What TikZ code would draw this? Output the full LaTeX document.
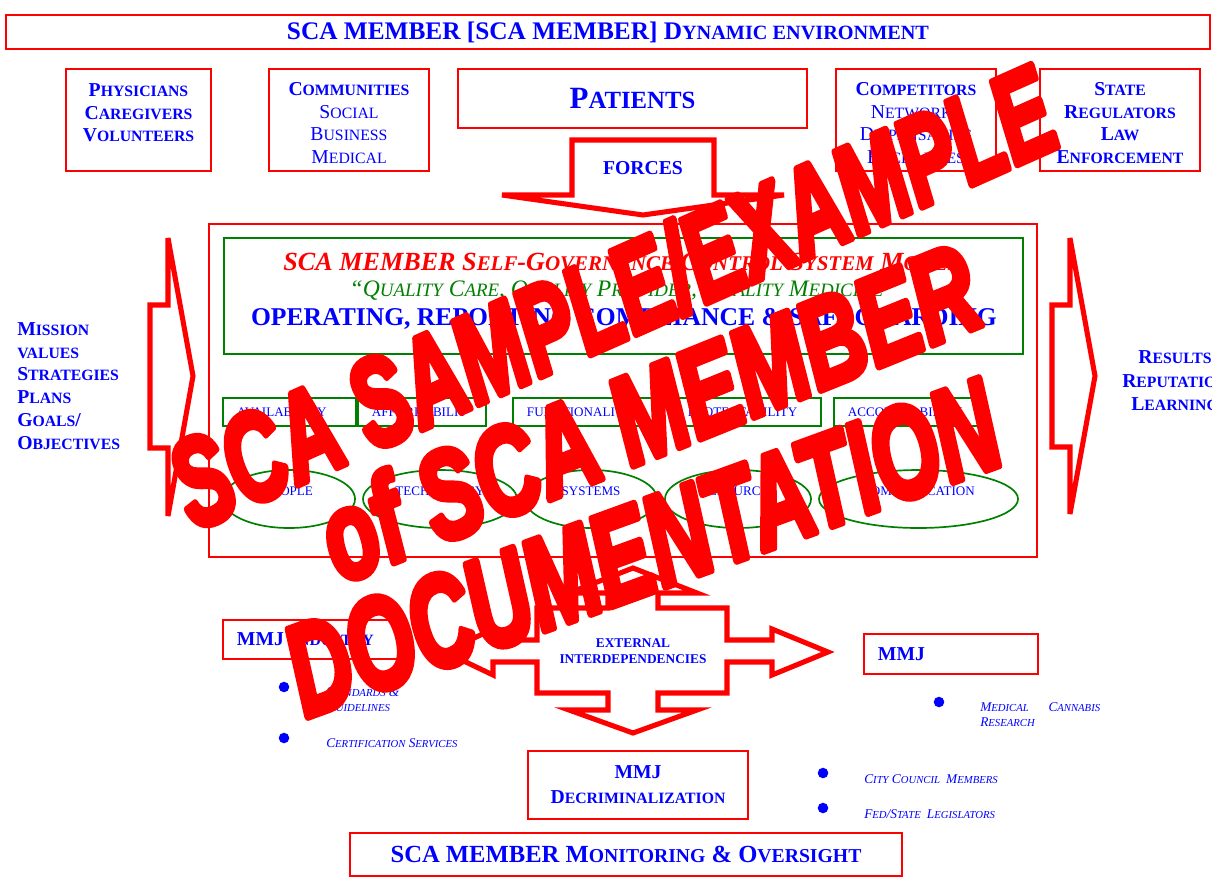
\documentclass[tikz,border=0pt]{standalone}
\usepackage{fontspec}
\setmainfont{Liberation Serif}
\newfontfamily\wmfont[BoldItalicFeatures={FakeBold=6}]{Liberation Sans}
\usetikzlibrary{shapes.geometric}
\definecolor{sgreen}{RGB}{0,128,0}
\newcommand\px{0.025cm}
\newcommand\smc[1]{\scalebox{0.8}{#1}}
\newcommand\roundjoin{\special{pdf:literal direct 1 j 1 J}}

\begin{document}
\begin{tikzpicture}[x=\px, y=-\px,
    redbox/.style={draw=red, line width=1.2pt, inner sep=0pt},
    grnbox/.style={draw=sgreen, line width=1.2pt, inner sep=0pt},
    oval/.style={ellipse, draw=sgreen, line width=1.2pt, inner sep=0pt, minimum height=58*\px},
    bigarrow/.style={draw=red, line width=3.6pt, fill=white, line join=miter},
    bluetxt/.style={text=blue, align=center, inner sep=0pt},
    boxfont/.style={font=\fontsize{14}{16}\selectfont},
    lbl/.style={text=blue, font=\fontsize{9.3}{11}\selectfont, inner sep=0pt},
    glbl/.style={grnbox, lbl, minimum height=28*\px, inner xsep=14*\px, align=left},
    bullet/.style={circle, fill=blue, inner sep=0pt, minimum size=7.5pt},
    bullettxt/.style={text=blue, font=\fontsize{9.5}{10.7}\selectfont\itshape, align=left, anchor=west, inner sep=0pt},
    wm/.style={text=red, font=\wmfont\bfseries\itshape, inner sep=0pt}]
    \useasboundingbox (0,0) rectangle (1212,877);
    % environment
    \node[redbox, bluetxt, minimum width=1204*\px, minimum height=34*\px, font=\fontsize{18}{20}\selectfont\bfseries] (env) at (608,32) {SCA MEMBER [SCA MEMBER] D\smc{YNAMIC ENVIRONMENT}};
    \node[redbox, minimum width=145*\px, minimum height=102*\px] (phys) at (138.5,120) {};
    \node[bluetxt, boxfont] (physT) at (138.5,113) {\bfseries P\smc{HYSICIANS}\\\bfseries C\smc{AREGIVERS}\\\bfseries V\smc{OLUNTEERS}};
    \node[redbox, minimum width=160*\px, minimum height=102*\px] (comm) at (349,120) {};
    \node[bluetxt, boxfont] (commT) at (349,123) {{\bfseries C\smc{OMMUNITIES}}\\S\smc{OCIAL}\\B\smc{USINESS}\\M\smc{EDICAL}};
    \node[redbox, bluetxt, minimum width=349*\px, minimum height=59*\px, font=\fontsize{22}{24}\selectfont\bfseries] (patients) at (632.5,98.5) {P\smc{ATIENTS}};
    \node[redbox, minimum width=160*\px, minimum height=102*\px] (compet) at (916,120) {};
    \node[bluetxt, boxfont] (competT) at (916,123) {{\bfseries C\smc{OMPETITORS}}\\N\smc{ETWORKS}\\D\smc{ISPENSARIES}\\E\smc{XCHANGES}};
    \node[redbox, minimum width=160*\px, minimum height=102*\px] (state) at (1120,120) {};
    \node[bluetxt, boxfont] (stateT) at (1120,123) {\bfseries S\smc{TATE}\\\bfseries R\smc{EGULATORS}\\\bfseries L\smc{AW}\\\bfseries E\smc{NFORCEMENT}};
    % forces
    \draw[bigarrow] (572,140) -- (714,140) -- (714,195) -- (784,195) -- (643,215) -- (502,195) -- (572,195) -- cycle;
    \node[bluetxt, font=\fontsize{14}{16}\selectfont\bfseries] (forces) at (643,168) {FORCES};
    % control system model
    \node[redbox, minimum width=828*\px, minimum height=333*\px] (core) at (623,390.5) {};
    \node[grnbox, minimum width=799*\px, minimum height=116*\px] (model) at (623.5,296) {};
    \node[inner sep=0pt, text=red, font=\fontsize{18.6}{20}\selectfont\bfseries\itshape] (modeltitle) at (622,262) {SCA MEMBER S\smc{ELF}-G\smc{OVERNANCE} C\smc{ONTROL} S\smc{YSTEM} M\smc{ODEL}};
    \node[inner sep=0pt, text=sgreen, font=\fontsize{16.8}{18}\selectfont\itshape] (motto) at (623,291) {“Q\smc{UALITY} C\smc{ARE}, Q\smc{UALITY} P\smc{ROVIDER}, Q\smc{UALITY} M\smc{EDICINE}”};
    \node[inner sep=0pt, text=blue, font=\fontsize{18.2}{19}\selectfont\bfseries] (opline) at (624,319) {OPERATING, REPORTING COMPLIANCE \& SAFEGUARDING};
    \node[glbl, text width=2.625cm] (avail) at (289.5,412) {AVAILABILITY};
    \node[glbl, text width=2.5cm] (afford) at (422,412) {AFFORDABILIT};
    \node[glbl, text width=3cm] (funct) at (587,412) {FUNCTIONALITY};
    \node[glbl, text width=2.975cm] (protect) at (747.5,412) {PROTECTABILITY};
    \node[glbl, text width=2.925cm] (account) at (906.5,412) {ACCOUNTABILITY};
    \node[oval, minimum width=132*\px, label={[lbl, yshift=5.7pt]center:PEOPLE}] (people) at (289,499) {};
    \node[oval, minimum width=154*\px, label={[lbl, yshift=5.7pt]center:TECHNOLOGY}] (tech) at (440,499) {};
    \node[oval, minimum width=132*\px, label={[lbl, yshift=5.7pt]center:SYSTEMS}] (systems) at (591,499) {};
    \node[oval, minimum width=146*\px, label={[lbl, yshift=5.7pt]center:RESOURCES}] (resources) at (738,499) {};
    \node[oval, minimum width=199*\px, label={[lbl, yshift=5.7pt]center:COMMUNICATION}] (communic) at (918.5,499) {};
    % inputs and outputs
    \draw[bigarrow] (150,305) -- (168,305) -- (168,238) -- (193,376) -- (168,516) -- (168,448) -- (150,448) -- cycle;
    \draw[bigarrow] (1052,305) -- (1070,305) -- (1070,238) -- (1095,376) -- (1070,514) -- (1070,447) -- (1052,447) -- cycle;
    \node[bluetxt, align=left, anchor=west, font=\fontsize{14}{16.2}\selectfont\bfseries] (aims) at (17,386) {M\smc{ISSION}\\\smc{VALUES}\\S\smc{TRATEGIES}\\P\smc{LANS}\\G\smc{OALS}/\\O\smc{BJECTIVES}};
    \node[bluetxt, font=\fontsize{14}{16.7}\selectfont\bfseries] (results) at (1175,381) {R\smc{ESULTS}\\R\smc{EPUTATION}\\L\smc{EARNING}};
    % external interdependencies
    \draw[bigarrow] (633,568) -- (697,593) -- (658,593) -- (658,608) -- (727,608) -- (727,640) -- (772,640) -- (772,629) -- (828,652) -- (772,675) -- (772,662) -- (727,662) -- (727,693) -- (658,693) -- (658,710) -- (697,710) -- (633,733) -- (569,710) -- (608,710) -- (608,693) -- (537,693) -- (537,662) -- (493,662) -- (493,675) -- (445,652) -- (493,629) -- (493,640) -- (537,640) -- (537,608) -- (608,608) -- (608,593) -- (569,593) -- cycle;
    \node[bluetxt, font=\fontsize{9.5}{11.4}\selectfont\bfseries] (extdep) at (633,651) {EXTERNAL\\INTERDEPENDENCIES};
    \node[redbox, text=blue, font=\fontsize{14}{16}\selectfont\bfseries, minimum height=39*\px, inner xsep=14*\px, text width=3.675cm, align=left] (industry) at (310.5,639.5) {MMJ I\smc{NDUSTRY}};
    \node[redbox, text=blue, font=\fontsize{14}{16}\selectfont\bfseries, minimum height=40*\px, inner xsep=14*\px, text width=3.65cm, align=left] (mmj) at (951,654) {MMJ};
    \node[redbox, bluetxt, font=\fontsize{14}{17.8}\selectfont\bfseries, minimum width=220*\px, minimum height=68*\px] (decrim) at (638,785) {MMJ\\D\smc{ECRIMINALIZATION}};
    \node[redbox, bluetxt, font=\fontsize{17.5}{20}\selectfont\bfseries, minimum width=552*\px, minimum height=43*\px] (oversight) at (626,854.5) {SCA MEMBER M\smc{ONITORING} \& O\smc{VERSIGHT}};
    % bullets
    \node[bullet] (stdot) at (284,687) {};
    \node[bullettxt] (stds) at (326,699.5) {S\smc{TANDARDS} \&\\G\smc{UIDELINES}};
    \node[bullet] (certdot) at (284,738) {};
    \node[bullettxt] (cert) at (326,743) {C\smc{ERTIFICATION} S\smc{ERVICES}};
    \node[bullet] (meddot) at (939,702) {};
    \node[bullettxt] (medres) at (980,714.5) {M\smc{EDICAL}\hspace{14pt}C\smc{ANNABIS}\\R\smc{ESEARCH}};
    \node[bullet] (citydot) at (823,773) {};
    \node[bullettxt] (city) at (864,779) {C\smc{ITY} C\smc{OUNCIL}\hspace{2pt} M\smc{EMBERS}};
    \node[bullet] (feddot) at (823,808) {};
    \node[bullettxt] (fed) at (864,814) {F\smc{ED}/S\smc{TATE}\hspace{2pt} L\smc{EGISLATORS}};
    % watermark
    \node[wm, rotate=24] (wmone) at (612,297) {\roundjoin\resizebox{23.8cm}{2.25cm}{SCA SAMPLE/EXAMPLE}};
    \node[wm, rotate=22] (wmtwo) at (648,412) {\roundjoin\resizebox{17.45cm}{2.25cm}{of SCA MEMBER}};
    \node[wm, rotate=20] (wmthree) at (642,548) {\roundjoin\resizebox{18.7cm}{2.25cm}{DOCUMENTATION}};
\end{tikzpicture}
\end{document}
